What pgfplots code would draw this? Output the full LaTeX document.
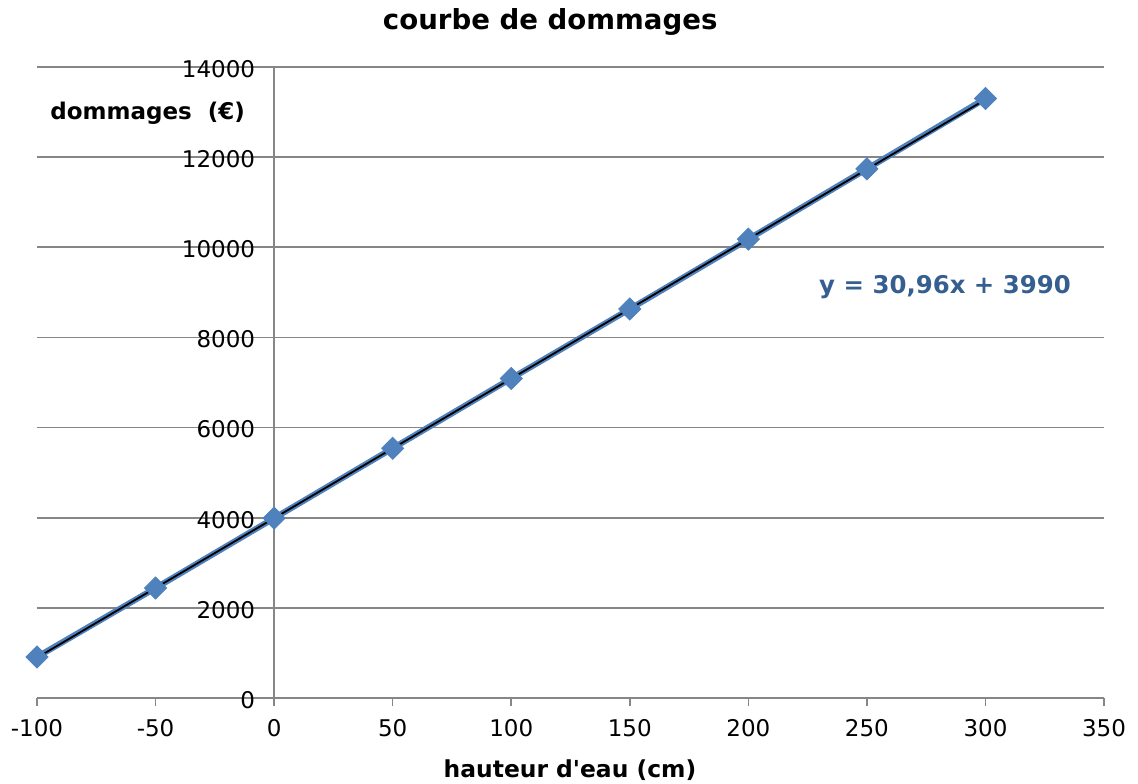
\documentclass[border=0pt]{standalone}
\usepackage{pgfplots}
\pgfplotsset{compat=1.18}
\usepackage{fontspec}
\setmainfont{DejaVu Sans}
\definecolor{gridgray}{HTML}{868686}
\definecolor{serblue}{HTML}{4F81BD}
\definecolor{eqblue}{HTML}{365F91}
\begin{document}
\begin{tikzpicture}
\path[use as bounding box] (-18.5pt,-42.5pt) rectangle (550.5pt,349pt);
\begin{axis}[
  at={(0,0)}, anchor=south west,
  scale only axis, width=533.5pt, height=315.5pt,
  xmin=-100, xmax=350, ymin=0, ymax=14000,
  xtick={-100,-50,...,350}, ytick={0,2000,...,14000},
  scaled y ticks=false, scaled x ticks=false,
  axis x line=bottom, axis y line=middle,
  axis line style={-, gridgray, line width=0.8pt},
  hide obscured x ticks=false, hide obscured y ticks=false,
  ymajorgrids, grid style={gridgray, line width=0.8pt},
  major tick style={gridgray, line width=0.8pt},
  major tick length=4pt,
  xtick align=outside, ytick align=outside,
  tick label style={font=\fontsize{11.5}{14}\selectfont, text=black},
  /pgf/number format/assume math mode=true,
  /pgf/number format/1000 sep={},
  yticklabel style={xshift=-2pt, yshift=-1pt},
  xticklabel style={yshift=-3pt},
  clip=false,
]
\addplot[serblue, line width=3pt, mark=square*, mark size=3.9pt,
  mark options={rotate=45, fill=serblue, draw=serblue, line width=0.4pt}]
  coordinates {(-100,910) (-50,2440) (0,3990) (50,5540) (100,7090)
               (150,8630) (200,10180) (250,11740) (300,13300)};
\addplot[black, line width=0.9pt] coordinates {(-100,894) (300,13278)};
\node[font=\fontsize{13.8}{16}\selectfont\bfseries] at (axis description cs:0.481,1.071) {courbe de dommages};
\node[font=\fontsize{11.7}{14}\selectfont\bfseries] at (axis description cs:0.4995,-0.114) {hauteur d\textquotesingle eau (cm)};
\node[font=\fontsize{11.5}{14}\selectfont\bfseries, anchor=east] at (axis description cs:0.2015,0.927) {dommages\ \ (€)};
\node[font=\fontsize{12.2}{14}\selectfont\bfseries, text=eqblue] at (axis description cs:0.851,0.651) {y = 30,96x + 3990};
\end{axis}
\end{tikzpicture}
\end{document}
